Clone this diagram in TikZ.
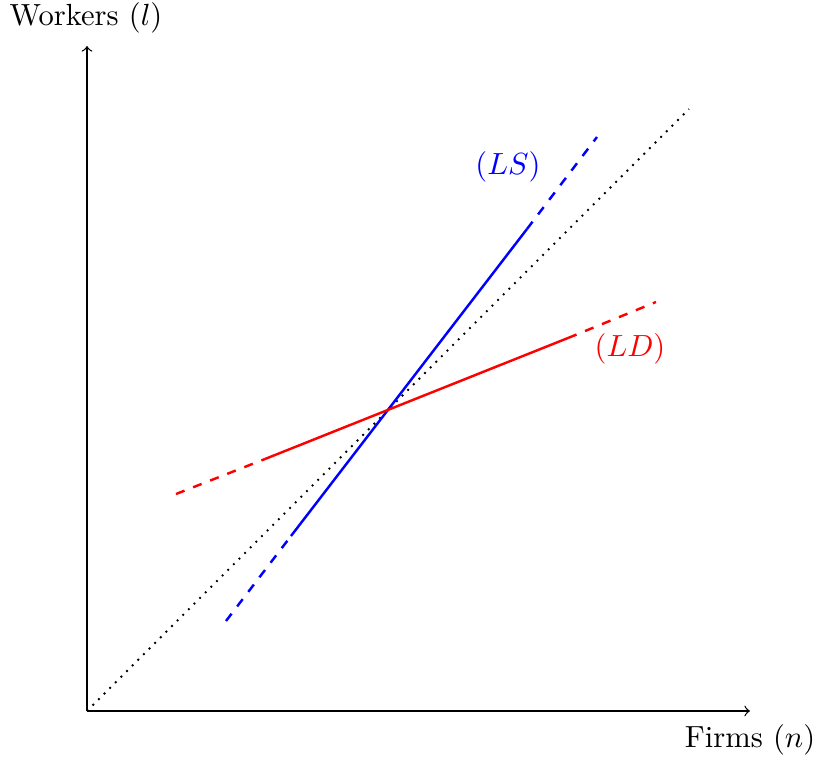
\documentclass[tikz,border=0pt]{standalone}
\begin{document}
\begin{tikzpicture}[x=0.327pt,y=-0.327pt,
  axis/.style={->},
  curve/.style={thick},
  lbl/.style={inner sep=0pt}]
\useasboundingbox (0,0) rectangle (817,758);
\coordinate (O) at (87,711);
\coordinate (X) at (750,711);
\coordinate (Y) at (87,46);
\coordinate (D) at (689,109);
\coordinate (B1) at (226,621);
\coordinate (B2) at (291,536);
\coordinate (B3) at (527,229);
\coordinate (B4) at (597,137);
\coordinate (R1) at (176,494);
\coordinate (R2) at (265,459);
\coordinate (R3) at (568,338);
\coordinate (R4) at (656,302);
\draw[axis] (O) -- (X);
\draw[axis] (O) -- (Y);
\node[lbl] (xl) at (750,740) {Firms $(n)$};
\node[lbl] (yl) at (86,18) {Workers $(l)$};
\draw[dotted,semithick] (O) -- (D);
\draw[curve,blue,dashed] (B1) -- (B2);
\draw[curve,blue] (B2) -- (B3);
\draw[curve,blue,dashed] (B3) -- (B4);
\draw[curve,red,dashed] (R1) -- (R2);
\draw[curve,red] (R2) -- (R3);
\draw[curve,red,dashed] (R3) -- (R4);
\node[lbl,blue] (ls) at (508,167) {$(LS)$};
\node[lbl,red] (ld) at (630,349) {$(LD)$};
\end{tikzpicture}
\end{document}
